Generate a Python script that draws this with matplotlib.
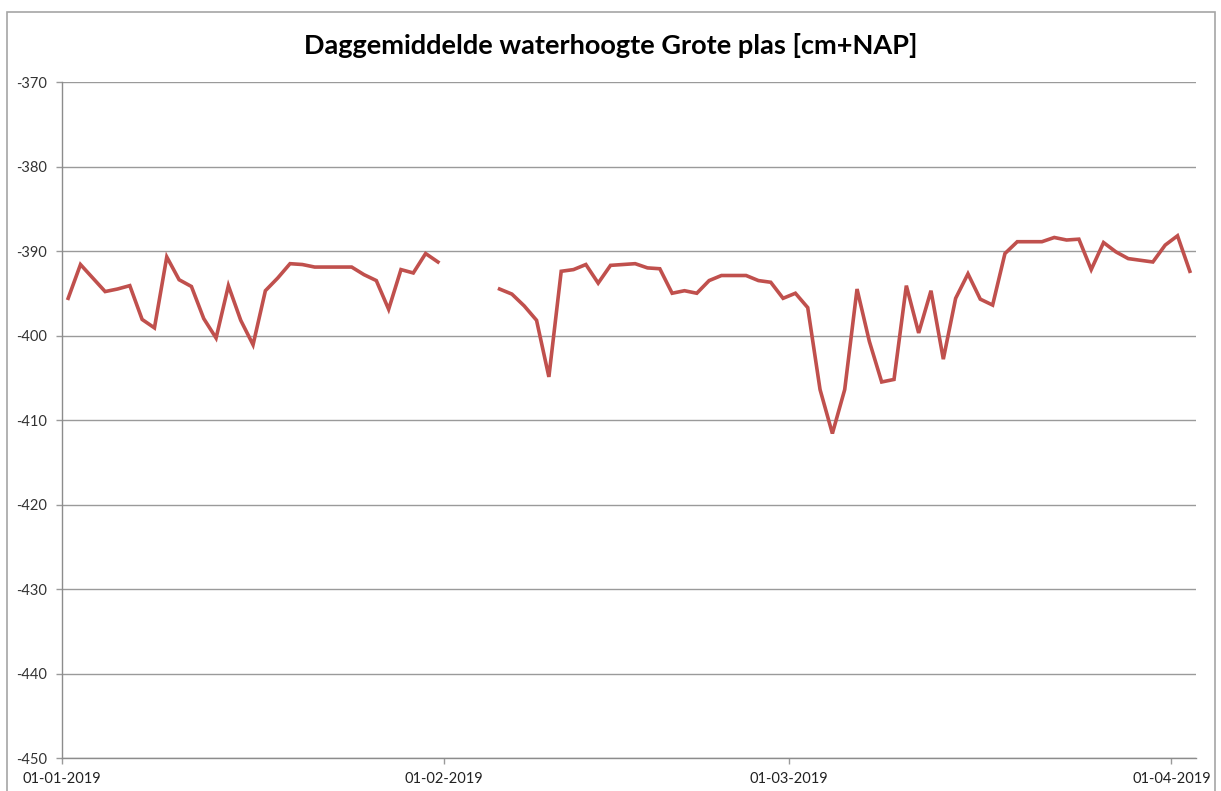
import numpy as np
import pandas as pd
import matplotlib
matplotlib.use("Agg")
import matplotlib.pyplot as plt
import matplotlib.dates as mdates
from matplotlib.patches import Rectangle

plt.rcParams["axes.unicode_minus"] = False

# daggemiddelde waterhoogte [cm+NAP], 1 jan t/m 2 apr 2019 (geen metingen 1-4 feb)
start = "2019-01-01"
jan = [-395.6, -391.6, -393.2, -394.8, -394.5, -394.1, -398.1, -399.1, -390.7, -393.4,
       -394.2, -398.0, -400.3, -394.1, -398.2, -401.1, -394.7, -393.2, -391.5, -391.6,
       -391.9, -391.9, -391.9, -391.9, -392.8, -393.5, -396.9, -392.2, -392.6, -390.3,
       -391.3]
feb = [np.nan, np.nan, np.nan, np.nan,
       -394.5, -395.1, -396.5, -398.2, -404.9, -392.4, -392.2, -391.6, -393.8, -391.7,
       -391.6, -391.5, -392.0, -392.1, -395.0, -394.7, -395.0, -393.5, -392.9, -392.9,
       -392.9, -393.5, -393.7, -395.6]
mrt = [-395.0, -396.7, -406.4, -411.6, -406.4, -394.5, -400.7, -405.5, -405.2, -394.1,
       -399.7, -394.7, -402.8, -395.6, -392.7, -395.7, -396.4, -390.3, -388.9, -388.9,
       -388.9, -388.4, -388.7, -388.6, -392.2, -389.0, -390.1, -390.9, -391.1, -391.3,
       -389.3]
apr = [-388.2, -392.4]

hoogte = np.array(jan + feb + mrt + apr)
dagen = pd.date_range(start, periods=len(hoogte), freq="D")
# Excel zet de punten midden in de dag
x = dagen + pd.Timedelta(hours=12)

W, H = 1221, 791
fig = plt.figure(figsize=(W / 100, H / 100), dpi=100)
ax = fig.add_axes([62 / W, 1 - 758 / H, (1196 - 62) / W, (758 - 82) / H])

ax.plot(x, hoogte, color="#c0504d", lw=2.6, solid_joinstyle="miter")

ax.set_ylim(-450, -370)
ax.set_yticks(np.arange(-450, -369, 10))
ax.set_xlim(pd.Timestamp(start), pd.Timestamp("2019-04-03"))
ax.set_xticks(pd.to_datetime(["2019-01-01", "2019-02-01", "2019-03-01", "2019-04-01"]))
ax.xaxis.set_major_formatter(mdates.DateFormatter("%d-%m-%Y"))

ax.grid(axis="y", color="#9a9a9a", lw=1.0)
ax.set_axisbelow(True)
for s in ["top", "right"]:
    ax.spines[s].set_visible(False)
for s in ["left", "bottom"]:
    ax.spines[s].set_color("#8c8c8c")
    ax.spines[s].set_linewidth(1.0)

ax.tick_params(axis="y", length=4, width=1, color="#9a9a9a", pad=7,
               labelsize=10.5, labelcolor="#333333")
ax.tick_params(axis="x", length=4, width=1, color="#9a9a9a", pad=6,
               labelsize=10.5, labelcolor="#222222")
for lbl in ax.get_xticklabels() + ax.get_yticklabels():
    lbl.set_family("Lato")

fig.text(0.5, 1 - 45 / H, "Daggemiddelde waterhoogte Grote plas [cm+NAP]",
         ha="center", va="center", fontsize=19.5, fontweight="bold",
         family="Lato", color="black")

# kader rond de grafiek
fig.patches.append(Rectangle((7 / W, -0.02), (1215 - 7) / W, 1.02 - 12 / H,
                             transform=fig.transFigure, fill=False,
                             edgecolor="#a6a6a6", lw=1.2))

fig.savefig("out.png", dpi=100)
